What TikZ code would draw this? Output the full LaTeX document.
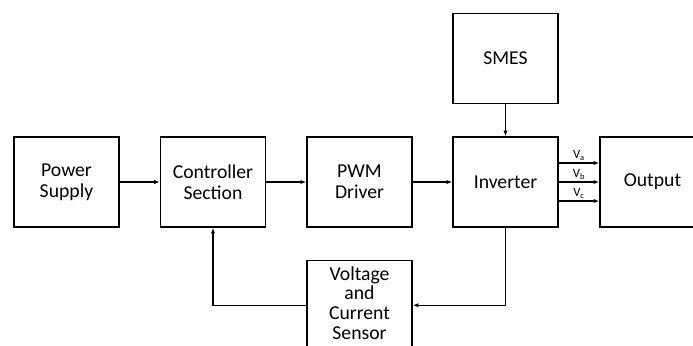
\documentclass[tikz,border=0pt]{standalone}
\usepackage{fontspec}
\setmainfont{Carlito}
\usetikzlibrary{arrows.meta}
\tikzset{
  block/.style={draw,line width=1pt,minimum width=2.625cm,minimum height=2.25cm,
    align=center,font=\fontsize{14}{14.6}\selectfont},
  sig/.style={-{Latex[length=4pt,width=3pt]},line width=0.8pt},
  phase/.style={font=\fontsize{9}{10}\selectfont,inner sep=1.5pt}
}
\begin{document}
\begin{tikzpicture}[x=0.025cm,y=-0.025cm]
  \useasboundingbox (0,0) rectangle (693,345);
  \clip (0,0) rectangle (693,345);
  % blocks
  \node[block] (ps)   at (66.5,182)  {Power\\Supply};
  \node[block] (ctrl) at (213,182)   {Controller\\Section};
  \node[block] (pwm)  at (359.5,182) {PWM\\Driver};
  \node[block] (inv)  at (505.5,182) {Inverter};
  \node[block] (smes) at (505.5,58.5) {SMES};
  \node[block] (out)  at (652.5,182) {Output};
  \node[block,anchor=north,minimum height=0pt,inner ysep=4pt,text depth=3pt,
    font=\fontsize{14}{14.2}\selectfont] (sens) at (359.5,260)
    {Voltage\\and\\Current\\Sensor};

  % forward path
  \draw[sig] (ps) -- (ctrl);
  \draw[sig] (ctrl) -- (pwm);
  \draw[sig] (pwm) -- (inv);
  \draw[sig] (smes) -- (inv);

  % three phase outputs
  \foreach \dy/\ph in {-19/a,0/b,19/c}{
    \draw[sig] ([yshift=-\dy*0.025cm]inv.east) -- ([yshift=-\dy*0.025cm]out.west)
      node[phase,midway,above] {V\textsubscript{\ph}};
  }

  % feedback
  \draw[sig] (inv.south) |- (sens.east);
  \draw[sig] (sens.west) -| (ctrl.south);
\end{tikzpicture}
\end{document}
